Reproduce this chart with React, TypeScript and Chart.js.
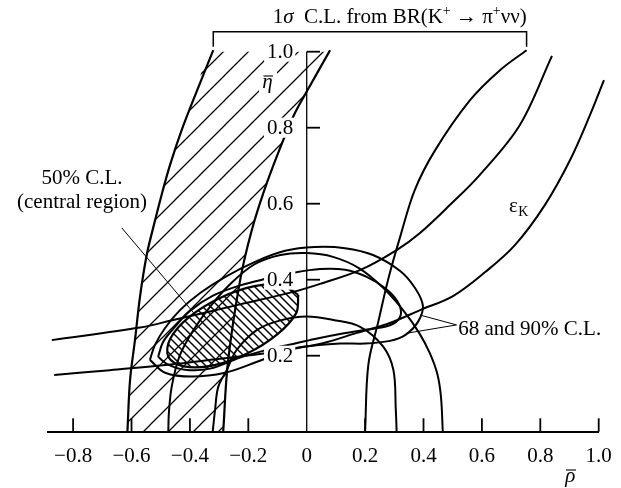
import React, { useEffect, useRef } from "react";
import { Chart, registerables } from "chart.js";
Chart.register(...registerables);

type P = [number, number];

// axis ticks
const xTicks = [-0.8, -0.6, -0.4, -0.2, 0, 0.2, 0.4, 0.6, 0.8, 1.0];
const yTicks = [0.2, 0.4, 0.6, 0.8, 1.0];

// 1 sigma band from BR(K+ -> pi+ nu nu): hatched strip, left and right edges (rho, eta)
const bandLeft: P[] = [
  [-0.614, 0], [-0.605, 0.136], [-0.588, 0.242], [-0.571, 0.355], [-0.548, 0.465],
  [-0.525, 0.539], [-0.497, 0.623], [-0.468, 0.702], [-0.428, 0.794], [-0.377, 0.895], [-0.32, 1.004],
];
const bandRight: P[] = [
  [-0.286, 0], [-0.27, 0.181], [-0.228, 0.399], [-0.188, 0.531], [-0.145, 0.636],
  [-0.094, 0.741], [-0.044, 0.833], [0.003, 0.899], [0.08, 1.004],
];
// other edge of the K+ band (end of the bracket)
const kaonEdge: P[] = [
  [0.2, 0], [0.211, 0.176], [0.245, 0.289], [0.28, 0.404], [0.322, 0.518],
  [0.37, 0.636], [0.44, 0.741], [0.56, 0.873], [0.66, 0.95], [0.753, 1.004],
];
// epsilon_K hyperbolas
const epsUpper: P[] = [
  [-0.873, 0.241], [-0.571, 0.274], [-0.457, 0.294], [-0.228, 0.335], [-0.046, 0.368],
  [0.046, 0.389], [0.182, 0.425], [0.308, 0.478], [0.388, 0.523], [0.491, 0.597],
  [0.593, 0.676], [0.73, 0.807], [0.84, 0.989],
];
const epsLower: P[] = [
  [-0.865, 0.149], [-0.674, 0.162], [-0.475, 0.176], [-0.297, 0.192], [-0.133, 0.207],
  [-0.047, 0.219], [0.056, 0.233], [0.172, 0.26], [0.285, 0.286], [0.388, 0.32],
  [0.501, 0.357], [0.611, 0.42], [0.713, 0.491], [0.816, 0.597], [0.902, 0.715],
  [0.97, 0.833], [1.018, 0.925],
];
// circles around the origin
const ringOuter: P[] = [
  [0.466, 0], [0.46, 0.09], [0.448, 0.15], [0.422, 0.206], [0.385, 0.26], [0.33, 0.32],
  [0.26, 0.38], [0.18, 0.43], [0.09, 0.46], [0, 0.47], [-0.09, 0.465], [-0.18, 0.44],
  [-0.26, 0.39], [-0.33, 0.33], [-0.39, 0.265], [-0.435, 0.2], [-0.462, 0.12], [-0.472, 0.05], [-0.474, 0],
];
const ringInner: P[] = [
  [0.308, 0], [0.305, 0.06], [0.297, 0.162], [0.262, 0.224], [0.183, 0.276], [0.091, 0.294],
  [0, 0.303], [-0.09, 0.293], [-0.17, 0.268], [-0.24, 0.215], [-0.274, 0.162], [-0.303, 0.118],
  [-0.314, 0.057], [-0.322, 0],
];
// confidence contours
const cl90: P[] = [
  [-0.537, 0.189], [-0.52, 0.228], [-0.485, 0.273], [-0.434, 0.32], [-0.365, 0.365],
  [-0.28, 0.407], [-0.177, 0.447], [-0.074, 0.476], [0.028, 0.486], [0.131, 0.483],
  [0.227, 0.465], [0.32, 0.423], [0.371, 0.378], [0.398, 0.331], [0.381, 0.289],
  [0.337, 0.254], [0.285, 0.239], [0.2, 0.232], [0.114, 0.232], [-0.013, 0.223],
  [-0.091, 0.207], [-0.17, 0.184], [-0.28, 0.155], [-0.393, 0.145], [-0.485, 0.155],
];
const cl68: P[] = [
  [-0.509, 0.197], [-0.492, 0.236], [-0.458, 0.27], [-0.4, 0.318], [-0.321, 0.358],
  [-0.228, 0.385], [-0.136, 0.403], [-0.047, 0.418], [0.046, 0.428], [0.131, 0.426],
  [0.207, 0.407], [0.268, 0.378], [0.31, 0.344], [0.323, 0.312], [0.306, 0.289],
  [0.268, 0.276], [0.2, 0.268], [0.114, 0.257], [0.028, 0.244], [-0.047, 0.231],
  [-0.133, 0.216], [-0.228, 0.195], [-0.331, 0.166], [-0.417, 0.163], [-0.478, 0.178],
];
const cl50: P[] = [
  [-0.029, 0.36], [-0.036, 0.312], [-0.101, 0.256], [-0.206, 0.205], [-0.323, 0.174],
  [-0.421, 0.172], [-0.474, 0.197], [-0.467, 0.245], [-0.402, 0.302], [-0.297, 0.352],
  [-0.179, 0.383], [-0.081, 0.386],
];
// leader lines of the annotations
const leader50: P[] = [[-0.633, 0.536], [-0.372, 0.299]];
const leader68a: P[] = [[0.513, 0.281], [0.388, 0.307]];
const leader68b: P[] = [[0.513, 0.281], [0.342, 0.259]];
const bracketEnds: number[] = [-0.32, 0.753];

const SERIF = '"Liberation Serif", "Times New Roman", serif';

const pts = (a: P[]) => a.map(([x, y]) => ({ x, y }));
const closed = (a: P[]) => [...a, a[0]];

function makeHatch(ctx: CanvasRenderingContext2D, s: number, dir: "slash" | "back", lw: number) {
  const c = document.createElement("canvas");
  c.width = s;
  c.height = s;
  const g = c.getContext("2d")!;
  g.strokeStyle = "#000";
  g.lineWidth = lw;
  g.beginPath();
  if (dir === "slash") {
    g.moveTo(-1, s + 1); g.lineTo(s + 1, -1);
    g.moveTo(-2, 2); g.lineTo(2, -2);
    g.moveTo(s - 2, s + 2); g.lineTo(s + 2, s - 2);
  } else {
    g.moveTo(-1, -1); g.lineTo(s + 1, s + 1);
    g.moveTo(s - 2, -2); g.lineTo(s + 2, 2);
    g.moveTo(-2, s - 2); g.lineTo(2, s + 2);
  }
  g.stroke();
  return ctx.createPattern(c, "repeat")!;
}

const fmtX = (v: number) => (v === 0 ? "0" : (v < 0 ? "\u2212" : "") + Math.abs(v).toFixed(1));

const overlay = {
  id: "overlay",
  afterDatasetsDraw(chart: any) {
    const ctx: CanvasRenderingContext2D = chart.ctx;
    const xs = chart.scales.x;
    const ys = chart.scales.y;
    const X = (v: number) => xs.getPixelForValue(v);
    const Y = (v: number) => ys.getPixelForValue(v);
    const x0 = X(0);
    ctx.save();
    ctx.strokeStyle = "#000";
    ctx.fillStyle = "#000";
    // y axis line
    ctx.lineWidth = 1.3;
    ctx.beginPath();
    ctx.moveTo(x0, Y(0));
    ctx.lineTo(x0, Y(1));
    ctx.stroke();
    // y tick marks (to the right)
    ctx.lineWidth = 1.8;
    for (const v of yTicks) {
      ctx.beginPath();
      ctx.moveTo(x0, Y(v));
      ctx.lineTo(x0 + 13.3, Y(v));
      ctx.stroke();
    }
    // x tick marks (upwards)
    for (const v of xTicks) {
      if (v === 0) continue;
      ctx.beginPath();
      ctx.moveTo(X(v), Y(0));
      ctx.lineTo(X(v), Y(0) - 13.4);
      ctx.stroke();
    }
    // y tick labels with white backdrop
    ctx.font = `21px ${SERIF}`;
    ctx.textAlign = "right";
    ctx.textBaseline = "middle";
    for (const v of yTicks) {
      const t = v.toFixed(1);
      const w = ctx.measureText(t).width;
      const xr = x0 - 13.4;
      ctx.fillStyle = "#fff";
      ctx.fillRect(xr - w - 3, Y(v) - 10, w + 5, 20);
      ctx.fillStyle = "#000";
      ctx.fillText(t, xr, Y(v) + 1);
    }
    // eta-bar label
    ctx.fillStyle = "#fff";
    ctx.fillRect(259, 71, 18, 25);
    ctx.fillStyle = "#000";
    ctx.textAlign = "center";
    ctx.textBaseline = "alphabetic";
    ctx.font = `italic 21px ${SERIF}`;
    ctx.fillText("\u03b7", 267.5, 88.3);
    ctx.lineWidth = 1.1;
    ctx.beginPath();
    ctx.moveTo(263.5, 76);
    ctx.lineTo(273, 76);
    ctx.stroke();
    // rho-bar label
    ctx.fillText("\u03c1", 570.3, 482);
    ctx.beginPath();
    ctx.moveTo(566, 470);
    ctx.lineTo(576, 470);
    ctx.stroke();

    // title with bracket
    const big = `21px ${SERIF}`;
    const it = `italic 21px ${SERIF}`;
    const sm = `14px ${SERIF}`;
    const runs = [
      { t: "1", f: big, dy: 0 },
      { t: "\u03c3", f: it, dy: 0 },
      { t: "  C.L. from BR(K", f: big, dy: 0 },
      { t: "+", f: sm, dy: -8 },
      { t: " \u2192 \u03c0", f: big, dy: 0 },
      { t: "+", f: sm, dy: -8 },
      { t: "\u03bd\u03bd)", f: big, dy: 0 },
    ];
    let total = 0;
    for (const r of runs) { ctx.font = r.f; total += ctx.measureText(r.t).width; }
    const bl = X(bracketEnds[0]);
    const br = X(bracketEnds[1]);
    let tx = 526.7 - total;
    ctx.textAlign = "left";
    for (const r of runs) {
      ctx.font = r.f;
      ctx.fillText(r.t, tx, 23 + r.dy);
      tx += ctx.measureText(r.t).width;
    }
    const yb = Y(1) - 20;
    ctx.lineWidth = 1.5;
    ctx.beginPath();
    ctx.moveTo(bl, Y(1) - 5);
    ctx.lineTo(bl, yb);
    ctx.lineTo(br, yb);
    ctx.lineTo(br, Y(1) - 5);
    ctx.stroke();

    // annotations
    ctx.font = big;
    ctx.textAlign = "center";
    ctx.fillText("50% C.L.", 82, 184);
    ctx.fillText("(central region)", 82, 208);
    ctx.textAlign = "left";
    ctx.fillText("68 and 90% C.L.", 458.3, 335);
    ctx.fillText("\u03b5", 509, 211.7);
    const we = ctx.measureText("\u03b5").width;
    ctx.font = sm;
    ctx.fillText("K", 509 + we + 0.5, 216);
    ctx.restore();
  },
};

export default function App() {
  const ref = useRef<HTMLCanvasElement>(null);
  useEffect(() => {
    const canvas = ref.current!;
    const ctx = canvas.getContext("2d")!;
    const bandPattern = makeHatch(ctx, 25, "slash", 1.25);
    const ellPattern = makeHatch(ctx, 8, "back", 1.45);

    const line = (a: P[], extra: any = {}) => ({
      data: pts(a),
      showLine: true,
      borderColor: "#000",
      borderWidth: 2,
      pointRadius: 0,
      pointHoverRadius: 0,
      tension: 0.35,
      fill: false,
      clip: false,
      ...extra,
    });

    const chart = new Chart(canvas, {
      type: "scatter",
      data: {
        datasets: [
          line(closed(cl50), { fill: "shape", backgroundColor: ellPattern, borderWidth: 2.2 }),
          line(bandLeft, { borderWidth: 2.2 }),
          line(bandRight, { borderWidth: 2.2 }),
          line(kaonEdge),
          line(epsUpper),
          line(epsLower),
          line(ringOuter),
          line(ringInner),
          line(closed(cl90)),
          line(closed(cl68)),
          line(leader50, { borderWidth: 1, tension: 0 }),
          line(leader68a, { borderWidth: 1, tension: 0 }),
          line(leader68b, { borderWidth: 1, tension: 0 }),
          line([...bandLeft, ...bandRight.slice().reverse()], {
            fill: "shape",
            backgroundColor: bandPattern,
            borderColor: "rgba(0,0,0,0)",
            borderWidth: 0,
          }),
        ],
      },
      options: {
        animation: false,
        responsive: false,
        devicePixelRatio: 1,
        events: [],
        layout: { padding: { left: 48.3, right: 22.3, top: 51.7, bottom: 0 } },
        elements: { line: { capBezierPoints: false } },
        plugins: { legend: { display: false }, tooltip: { enabled: false } },
        scales: {
          x: {
            type: "linear",
            position: "bottom",
            min: -0.885,
            max: 1.0,
            afterBuildTicks: (s: any) => {
              s.ticks = xTicks.map((v) => ({ value: v }));
            },
            afterFit: (s: any) => {
              s.height = 56.3;
            },
            border: { display: true, color: "#000", width: 2 },
            grid: { display: true, drawOnChartArea: false, drawTicks: false, color: "rgba(0,0,0,0)" },
            ticks: {
              autoSkip: false,
              maxRotation: 0,
              minRotation: 0,
              padding: 8,
              color: "#000",
              font: { family: SERIF, size: 21, lineHeight: 1.6 },
              callback: (v: any) => fmtX(Number(v)),
            },
          },
          y: { type: "linear", min: 0, max: 1.0, display: false },
        },
      },
      plugins: [overlay],
    } as any);
    return () => chart.destroy();
  }, []);
  return (
    <div style={{ position: "fixed", left: 0, top: 0, width: 621, height: 488, background: "#fff" }}>
      <canvas ref={ref} width={621} height={488} style={{ display: "block", width: 621, height: 488 }} />
    </div>
  );
}
